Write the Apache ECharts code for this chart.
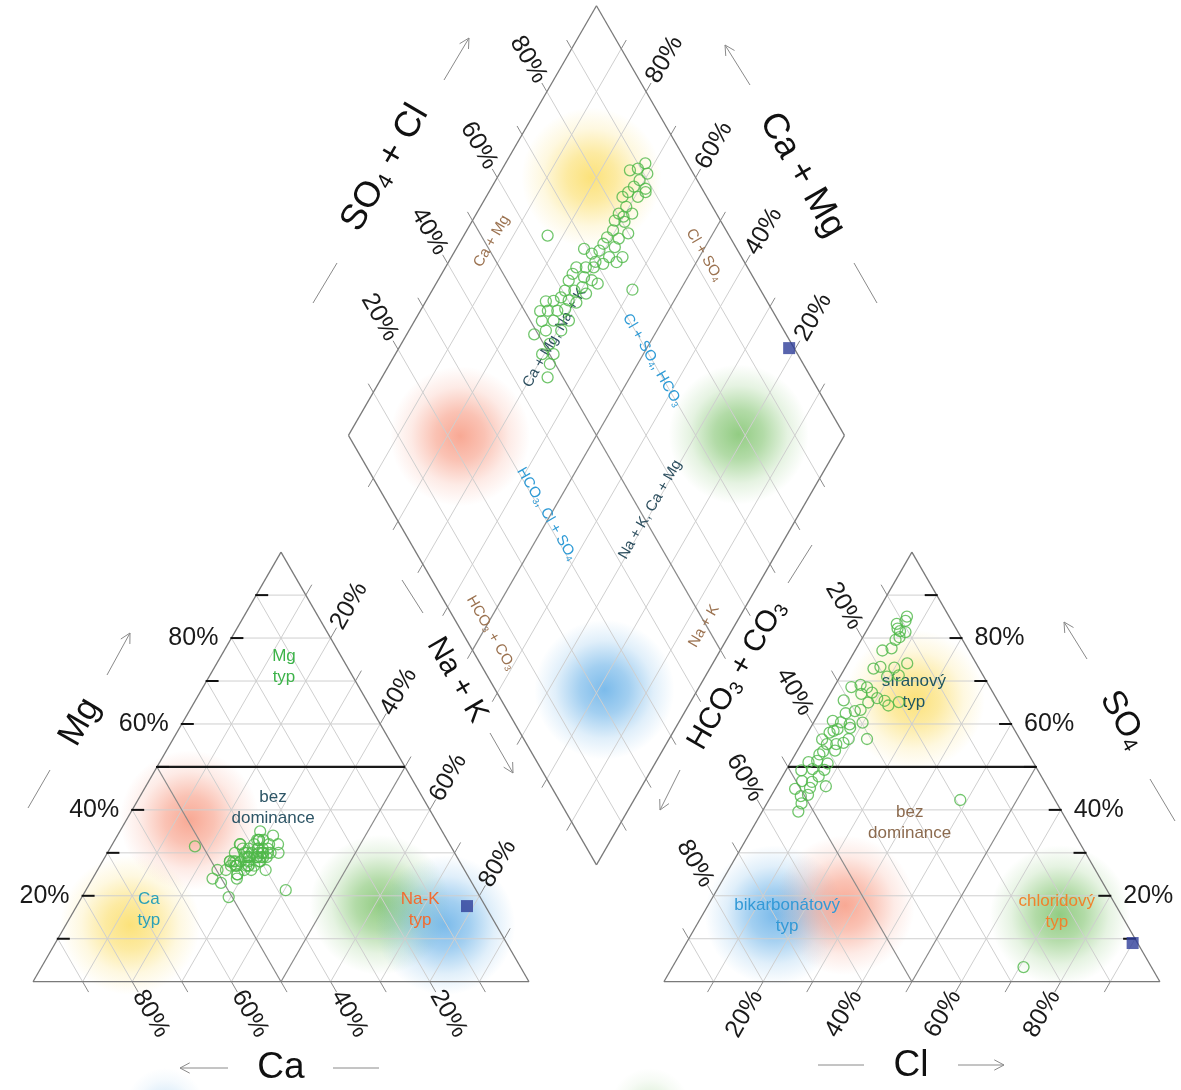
<!DOCTYPE html>
<html><head><meta charset="utf-8">
<script src="https://cdn.jsdelivr.net/npm/echarts@6/dist/echarts.min.js"></script>
<style>html,body{margin:0;padding:0;background:#fff}#c{width:1181px;height:1090px}</style>
</head><body><div id="c"></div>
<script>
// ---------------- DATA (percent of meq) ----------------
const sampleMg = [29,31,27,30,33,28,26,32,29,30, 27,34,28,31,25,30,29,32,27,30,
  28,33,26,29,31,24,30,28,32,27, 29,35,26,30,28,31,29,23,27,33,
  30,28,25,31,29,27,32,30,26,29, 28,31,24,30,27,33,29,28,30,26,
  32, 31.5,21.3,27,19.7];
const sampleNaK = [28.2,29.8,27.3,31.2,29.0,31.6,25.9,28.6,30.6,28.1,
  27.5,31.4,29.4,30.8,28.7,32.9,28.7,31.6,29.5,34.5,
  31.8,29.1,33.9,29.1,31.8,29.1,31.4,27.9,25.8,29.9,
  32.6,28.3,31.0,29.1,26.4,29.9,31.4,26.4,26.4,28.7,
  30.5,26.8,28.7,26.8,29.0,31.1,25.7,27.6,24.2,30.7,
  25.7,28.0,24.2,25.7,27.6,29.9,31.9,25.7,32.3,29.6,
  33.4, 16.9,40.3,30.0,29.6];
const sampleSO4 = [85.0,84.0,81.4,83.3,81.6,82.2,80.2,79.6,74.1,77.6,
  73.1,71.3,77.1,71.0,73.3,65.1,72.9,64.3,65.4,66.0,
  67.3,68.5,69.1,65.0,67.0,68.6,63.3,60.3,56.5,65.5,
  62.5,59.9,59.1,60.4,56.5,60.7,58.8,55.6,55.3,58.0,
  53.8,55.3,56.4,53.6,50.8,52.9,49.3,51.4,45.5,47.8,
  51.1,49.5,46.5,49.2,45.1,46.7,43.5,43.2,44.9,41.5,
  39.6, 58.4,3.4,42.3,63.0];
const sampleCl = [6.5,6.7,8.0,5.3,6.8,6.0,7.4,6.9,12.0,7.1,
  9.9,11.7,5.5,9.5,7.0,14.8,5.8,13.1,11.8,10.0,
  8.3,6.7,5.1,8.7,6.3,3.5,8.0,9.9,12.7,3.5,
  5.4,7.5,8.0,5.5,9.0,3.7,5.6,8.4,7.1,4.4,
  7.6,5.2,3.7,5.3,7.6,4.9,7.7,5.2,9.9,7.3,
  3.6,5.2,6.6,3.1,6.9,4.5,7.3,6.0,4.0,7.0,
  7.3, 5.0,70.8,38.6,7.0];
const refMg = [17.6], refNaK = [78.7], refSO4 = [9.0], refCl = [90.0];
const tickValues = [20, 40, 60, 80];
const gridSteps = [10, 20, 30, 40, 50, 60, 70, 80, 90];

// ---------------- GEOMETRY (units: triangle side = 100) ----------------
const H = Math.sqrt(3) / 2;
const GAP = 27.2;
const AX = 100 + GAP;
const DB = [100 + GAP / 2, GAP * H];
const DL = [DB[0] - 50, DB[1] + 100 * H];
const PX = 4.96;
const X_MIN = -33 / PX, X_MAX = (1181 - 33) / PX, Y_MIN = -(1090 - 981.7) / PX, Y_MAX = 981.7 / PX;
function U(x, y) { return [(x - 33) / PX, (981.7 - y) / PX]; }
function cat(mg, nak) { return [nak + mg / 2, mg * H]; }
function an(so4, cl) { return [AX + cl + so4 / 2, so4 * H]; }
function dia(n, a) { return [DL[0] + (n + a) / 2, DL[1] + (a - n) * H]; }
function ext(p, d, len, back) { back = back || 0; return [[p[0] - d[0] * back / PX, p[1] - d[1] * back / PX], [p[0] + d[0] * len / PX, p[1] + d[1] * len / PX]]; }

const FONT = '"Liberation Sans", Arial, Helvetica, sans-serif';
const segLight = [], segClass = [], segEdge = [], segThick = [], segBlack = [], segGray = [], segArrow = [];

gridSteps.forEach(k => {
  // cation triangle
  (k === 50 ? segThick : segLight).push([cat(k, 0), cat(k, 100 - k)]);
  (k === 50 ? segClass : segLight).push([cat(0, 100 - k), cat(100 - k, 0)]);
  (k === 50 ? segClass : segLight).push([cat(0, k), cat(100 - k, k)]);
  segBlack.push(ext(cat(k, 0), [1, 0], 12, 1));
  segGray.push(ext(cat(0, 100 - k), [0.5, -H], 12));
  segGray.push(ext(cat(100 - k, k), [0.5, H], 12));
  // anion triangle
  (k === 50 ? segThick : segLight).push([an(k, 0), an(k, 100 - k)]);
  (k === 50 ? segClass : segLight).push([an(0, k), an(100 - k, k)]);
  (k === 50 ? segClass : segLight).push([an(0, 100 - k), an(100 - k, 0)]);
  segBlack.push(ext(an(k, 100 - k), [-1, 0], 12, 1));
  segGray.push(ext(an(0, k), [-0.5, -H], 12));
  segGray.push(ext(an(100 - k, 0), [-0.5, H], 12));
  // diamond
  (k === 50 ? segClass : segLight).push([dia(0, k), dia(100, k)]);
  (k === 50 ? segClass : segLight).push([dia(k, 0), dia(k, 100)]);
  segGray.push(ext(dia(0, k), [-0.5, H], 10));
  segGray.push(ext(dia(k, 100), [0.5, H], 10));
  segGray.push(ext(dia(k, 0), [-0.5, -H], 10));
  segGray.push(ext(dia(100, k), [0.5, -H], 10));
});
[[cat(0,0),cat(0,100)],[cat(0,100),cat(100,0)],[cat(100,0),cat(0,0)],
 [an(0,0),an(0,100)],[an(0,100),an(100,0)],[an(100,0),an(0,0)],
 [dia(0,0),dia(100,0)],[dia(100,0),dia(100,100)],[dia(100,100),dia(0,100)],[dia(0,100),dia(0,0)]]
 .forEach(s => segEdge.push(s));

function arrowPx(x1, y1, x2, y2, head) {
  segArrow.push([U(x1, y1), U(x2, y2)]);
  if (head) {
    const L = Math.hypot(x2 - x1, y2 - y1), dx = (x2 - x1) / L, dy = (y2 - y1) / L, a = 28 * Math.PI / 180, h = 11;
    [1, -1].forEach(s => {
      const c = Math.cos(s * a), sn = Math.sin(s * a);
      const rx = dx * c - dy * sn, ry = dx * sn + dy * c;
      segArrow.push([U(x2, y2), U(x2 - rx * h, y2 - ry * h)]);
    });
  }
}
arrowPx(28, 808, 50, 770); arrowPx(107, 675, 130, 633, true);
arrowPx(228, 1068, 180, 1068, true); arrowPx(333, 1068, 379, 1068);
arrowPx(402, 580, 423, 613); arrowPx(490, 733, 513, 773, true);
arrowPx(788, 583, 812, 545); arrowPx(680, 770, 660, 810, true);
arrowPx(444, 80, 469, 38, true); arrowPx(313, 303, 337, 263);
arrowPx(750, 85, 725, 45, true); arrowPx(854, 263, 877, 303);
arrowPx(1087, 659, 1064, 622, true); arrowPx(1150, 779, 1175, 821);
arrowPx(818, 1065, 864, 1065); arrowPx(958, 1065, 1004, 1065, true);

// ---------------- TEXTS ----------------
const texts = [];
function addText(pos, text, o) { texts.push(Object.assign({ pos, text, dx: 0, dy: 0, rot: 0, align: 'center', va: 'middle', size: 25, color: '#1a1a1a' }, o || {})); }
const R60 = Math.PI / 3;
tickValues.forEach(k => {
  const lab = k + '%';
  addText(cat(k, 0), lab, { dx: -13, align: 'right' });
  addText(cat(0, 100 - k), lab, { dx: 6, dy: 10.4, rot: -R60, align: 'left' });
  addText(cat(100 - k, k), lab, { dx: 6, dy: -10.4, rot: R60, align: 'left' });
  addText(an(k, 100 - k), lab, { dx: 13, align: 'left' });
  addText(an(0, k), lab, { dx: -6, dy: 10.4, rot: R60, align: 'right' });
  addText(an(100 - k, 0), lab, { dx: -6, dy: -10.4, rot: -R60, align: 'right' });
  addText(dia(0, k), lab, { dx: -6, dy: -10.4, rot: -R60, align: 'right' });
  addText(dia(100 - k, 100), lab, { dx: 6, dy: -10.4, rot: R60, align: 'left' });
});
// axis titles
addText(U(80, 722), 'Mg', { size: 35, rot: R60, color: '#111' });
addText(U(281, 1068), 'Ca', { size: 37, color: '#111' });
addText(U(457, 680), 'Na + K', { size: 30, rot: -R60, color: '#111' });
addText(U(737, 675), 'HCO_3 + CO_3', { size: 30, rot: R60, color: '#111' });
addText(U(1123, 720), 'SO_4', { size: 34, rot: -R60, color: '#111' });
addText(U(911, 1066), 'Cl', { size: 37, color: '#111' });
addText(U(385, 168), 'SO_4 + Cl', { size: 36, rot: R60, color: '#111' });
addText(U(802, 175), 'Ca + Mg', { size: 36, rot: -R60, color: '#111' });
// zone labels
const zl = { size: 17, lh: 21 };
addText(cat(73.2, 14.0), 'Mg\ntyp', Object.assign({ color: '#3db34a' }, zl));
addText(cat(40.4, 28.2), 'bez\ndominance', Object.assign({ color: '#2d5566' }, zl));
addText(cat(16.7, 15.0), 'Ca\ntyp', Object.assign({ color: '#2aa0b8' }, zl));
addText(cat(16.7, 69.7), 'Na-K\ntyp', Object.assign({ color: '#f26b2f' }, zl));
addText(an(67.4, 16.7), 'síranový\ntyp', Object.assign({ color: '#1e5560' }, zl));
addText(an(37.1, 31.0), 'bez\ndominance', Object.assign({ color: '#8c6b4f' }, zl));
addText(an(15.3, 17.2), 'bikarbonátový\ntyp', Object.assign({ color: '#3399d6' }, zl));
addText(an(16.2, 71.1), 'chloridový\ntyp', Object.assign({ color: '#f0822c' }, zl));
const BR = '#9b7250', DK = '#2d4f5f', BL = '#2f9bd6';
addText(dia(6.3, 51.5), 'Ca + Mg', { size: 15, rot: R60, color: BR });
addText(dia(50.7, 92.7), 'Cl + SO_4', { size: 15, rot: -R60, color: BR });
addText(dia(30.2, 52.9), 'Ca + Mg, Na + K', { size: 15, rot: R60, color: DK });
addText(dia(52.5, 70.0), 'Cl + SO_4, HCO_3', { size: 15, rot: -R60, color: BL });
addText(dia(49.1, 30.8), 'HCO_3, Cl + SO_4', { size: 15, rot: -R60, color: BL });
addText(dia(69.5, 52.2), 'Na + K, Ca + Mg', { size: 15, rot: R60, color: DK });
addText(dia(51.7, 5.7), 'HCO_3 + CO_3', { size: 15, rot: -R60, color: BR });
addText(dia(93.9, 49.5), 'Na + K', { size: 15, rot: R60, color: BR });

function subRich(str) {
  return str.split(/(_\d)/).filter(s => s).map(s => s[0] === '_' ? '{s|' + s.slice(1) + '}' : '{n|' + s + '}').join('');
}

// ---------------- BLOBS ----------------
const YEL = [250, 212, 60], SAL = [245, 128, 98], GRN = [95, 180, 72], BLU = [62, 155, 225];
function grad(c, k) {
  k = k || 1;
  const f = a => 'rgba(' + c[0] + ',' + c[1] + ',' + c[2] + ',' + (a * k) + ')';
  return { type: 'radial', x: 0.5, y: 0.5, r: 0.5, colorStops: [
    { offset: 0, color: f(0.85) }, { offset: 0.35, color: f(0.6) }, { offset: 0.7, color: f(0.2) }, { offset: 1, color: f(0) }] };
}
const blobs = [
  [cat(13.2, 13.0), YEL], [cat(37.6, 12.8), SAL], [cat(17.9, 61.0), GRN], [cat(13.2, 76.5), BLU],
  [an(65.6, 17.8), YEL], [an(15.5, 14.6), BLU], [an(17.8, 27.6), SAL], [an(15.5, 72.1), GRN],
  [dia(19, 79), YEL], [dia(22.6, 22.4), SAL], [dia(78.6, 78.8), GRN], [dia(81.2, 22.0), BLU]
].map(b => ({ value: b[0], symbolSize: 140, itemStyle: { color: grad(b[1]) } }));
blobs.push({ value: U(165, 1108), symbolSize: 80, itemStyle: { color: grad(BLU, 0.35) } });
blobs.push({ value: U(650, 1108), symbolSize: 80, itemStyle: { color: grad(GRN, 0.35) } });

// ---------------- SERIES ----------------
function segSeries(segs, color, width, z) {
  return { type: 'custom', coordinateSystem: 'cartesian2d', silent: true, z, animation: false,
    data: segs.map(s => [s[0][0], s[0][1], s[1][0], s[1][1]]),
    renderItem: (params, api) => {
      const p1 = api.coord([api.value(0), api.value(1)]);
      const p2 = api.coord([api.value(2), api.value(3)]);
      return { type: 'line', shape: { x1: p1[0], y1: p1[1], x2: p2[0], y2: p2[1] }, style: { stroke: color, lineWidth: width } };
    } };
}
const catPts = sampleMg.map((m, i) => cat(m, sampleNaK[i]));
const anPts = sampleSO4.map((s, i) => an(s, sampleCl[i]));
const diaPts = sampleNaK.map((n, i) => dia(n, sampleSO4[i] + sampleCl[i]));
const refPts = [cat(refMg[0], refNaK[0]), an(refSO4[0], refCl[0]), dia(refNaK[0], refSO4[0] + refCl[0])];

const chart = echarts.init(document.getElementById('c'));
chart.setOption({
  animation: false,
  backgroundColor: '#fff',
  grid: { left: 0, right: 0, top: 0, bottom: 0 },
  xAxis: { type: 'value', min: X_MIN, max: X_MAX, show: false },
  yAxis: { type: 'value', min: Y_MIN, max: Y_MAX, show: false },
  series: [
    { type: 'scatter', data: blobs, symbol: 'circle', silent: true, z: 1, clip: false },
    segSeries(segLight, '#cfcfcf', 1, 2),
    segSeries(segClass, '#8a8a8a', 1.2, 3),
    segSeries(segEdge, '#7a7a7a', 1.3, 4),
    segSeries(segGray, '#8a8a8a', 1, 4),
    segSeries(segArrow, '#8a8a8a', 1, 4),
    segSeries(segThick, '#1a1a1a', 2.2, 5),
    segSeries(segBlack, '#111', 2, 5),
    { type: 'custom', coordinateSystem: 'cartesian2d', silent: true, z: 6,
      data: texts.map((t, i) => [t.pos[0], t.pos[1], i]),
      renderItem: (params, api) => {
        const t = texts[api.value(2)];
        const p = api.coord([api.value(0), api.value(1)]);
        const style = { fill: t.color, fontSize: t.size, fontFamily: FONT, align: t.align, verticalAlign: t.va };
        if (/_\d/.test(t.text)) {
          style.text = subRich(t.text);
          style.rich = { n: { fill: t.color, fontSize: t.size, fontFamily: FONT },
            s: { fill: t.color, fontSize: Math.round(t.size * 0.62), fontFamily: FONT, padding: [Math.round(t.size * 0.45), 0, 0, 0] } };
        } else {
          style.text = t.text;
          if (t.lh) style.lineHeight = t.lh;
        }
        return { type: 'text', x: p[0] + t.dx, y: p[1] + t.dy, rotation: t.rot, style };
      } },
    { type: 'scatter', data: catPts.concat(anPts, diaPts), symbol: 'circle', symbolSize: 11, silent: true, z: 10, clip: false,
      itemStyle: { color: 'rgba(0,0,0,0)', borderColor: '#4fb848', borderWidth: 1.3 } },
    { type: 'scatter', data: refPts, symbol: 'rect', symbolSize: 12, silent: true, z: 11, clip: false,
      itemStyle: { color: '#2e3d99' } }
  ]
});
</script></body></html>
